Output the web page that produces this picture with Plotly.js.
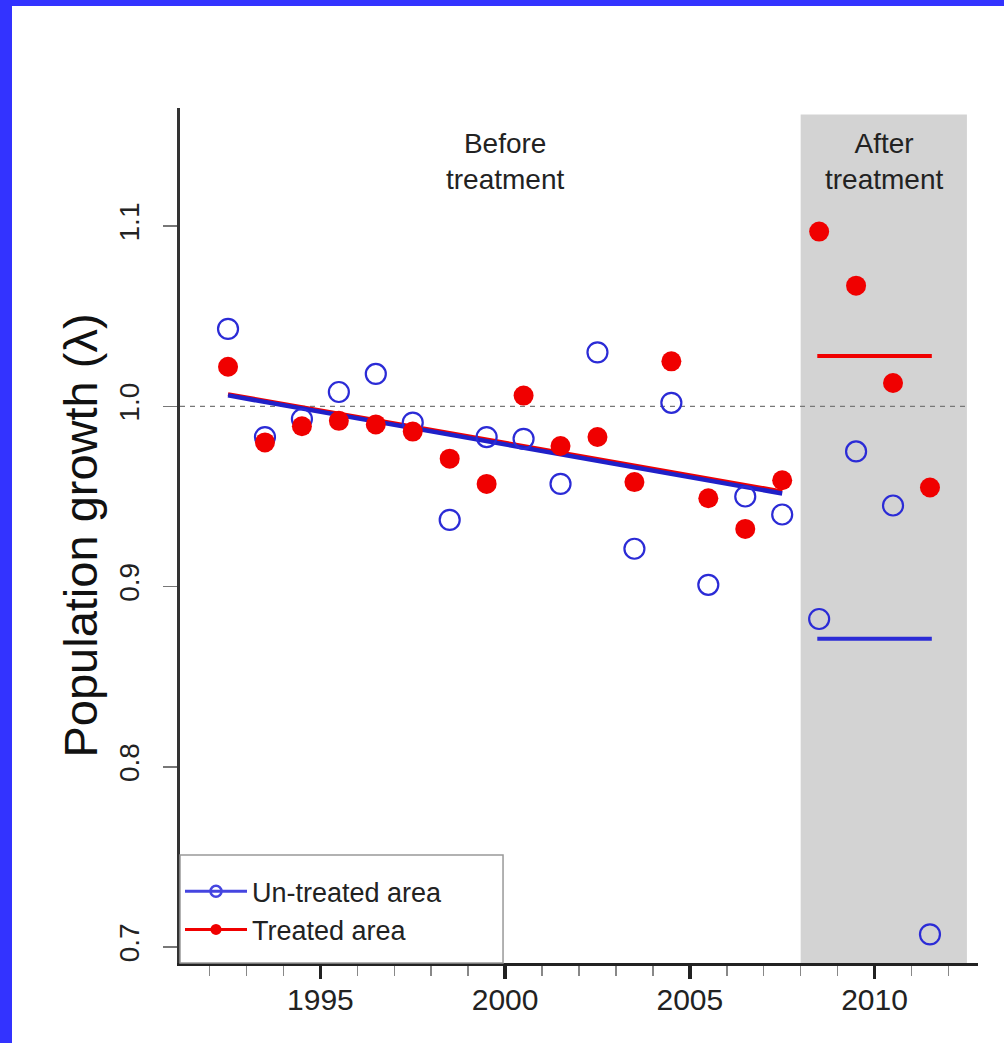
<!DOCTYPE html>
<html>
<head>
<meta charset="utf-8">
<script src="https://cdn.plot.ly/plotly-3.0.1.min.js"></script>
<style>
  html, body { margin: 0; padding: 0; background: #3333ff; width: 1004px; height: 1043px; overflow: hidden; }
  #chart { position: absolute; left: 12px; top: 6px; width: 992px; height: 1037px; background: #ffffff; }
</style>
</head>
<body>
<div id="chart"></div>
<script>
// ---- Data ----
const yearsBefore = [1992.5, 1993.5, 1994.5, 1995.5, 1996.5, 1997.5, 1998.5, 1999.5,
                     2000.5, 2001.5, 2002.5, 2003.5, 2004.5, 2005.5, 2006.5, 2007.5];
const yearsAfter  = [2008.5, 2009.5, 2010.5, 2011.5];

const untreatedBefore = [1.043, 0.983, 0.993, 1.008, 1.018, 0.991, 0.937, 0.983,
                         0.982, 0.957, 1.030, 0.921, 1.002, 0.901, 0.950, 0.940];
const untreatedAfter  = [0.882, 0.975, 0.945, 0.707];

const treatedBefore = [1.022, 0.980, 0.989, 0.992, 0.990, 0.986, 0.971, 0.957,
                       1.006, 0.978, 0.983, 0.958, 1.025, 0.949, 0.932, 0.959];
const treatedAfter  = [1.097, 1.067, 1.013, 0.955];

// Fitted trend lines (before treatment)
const trendX         = [1992.5, 2007.5];
const trendUntreated = [1.0061, 0.9517];
const trendTreated   = [1.0068, 0.9528];

// Mean level after treatment
const meanX         = [2008.45, 2011.55];
const meanUntreated = [0.871, 0.871];
const meanTreated   = [1.028, 1.028];

// Periods
const afterStart = 2008, afterEnd = 2012.5, panelTop = 1.162;
const xTickVals  = [1995, 2000, 2005, 2010];
const yTickVals  = [0.7, 0.8, 0.9, 1.0, 1.1];
const xRange = [1991.2, 2012.8];
const yRange = [0.6911, 1.1656];

const legendNames = ['Un-treated area', 'Treated area'];
const periodLabels = ['Before<br>treatment', 'After<br>treatment'];

const BLUE = '#2b2bd6';
const RED  = '#f00000';
const FONT = 'Liberation Sans, Arial, sans-serif';

const allX = yearsBefore.concat(yearsAfter);

const traces = [
  { x: trendX, y: trendTreated, mode: 'lines', line: {color: RED, width: 4}, showlegend: false, hoverinfo: 'skip' },
  { x: trendX, y: trendUntreated, mode: 'lines', line: {color: '#2020c8', width: 4.5}, showlegend: false, hoverinfo: 'skip' },
  { x: meanX, y: meanTreated, mode: 'lines', line: {color: RED, width: 4}, showlegend: false },
  { x: meanX, y: meanUntreated, mode: 'lines', line: {color: BLUE, width: 4}, showlegend: false },
  { x: allX, y: untreatedBefore.concat(untreatedAfter), mode: 'markers', showlegend: false,
    marker: {symbol: 'circle-open', size: 20, color: BLUE, line: {width: 2.2, color: BLUE}} },
  { x: allX, y: treatedBefore.concat(treatedAfter), mode: 'markers', showlegend: false,
    marker: {symbol: 'circle', size: 20, color: RED} },
  // legend entries
  { x: [null], y: [null], name: legendNames[0], mode: 'lines+markers',
    line: {color: '#4545e0', width: 3}, marker: {symbol: 'circle-open', size: 11, color: '#4545e0', line: {width: 2.5}} },
  { x: [null], y: [null], name: legendNames[1], mode: 'lines+markers',
    line: {color: RED, width: 3}, marker: {symbol: 'circle', size: 11, color: RED} }
];

const layout = {
  width: 992, height: 1037,
  margin: {l: 168, r: 26, t: 102, b: 80},
  paper_bgcolor: '#ffffff', plot_bgcolor: '#ffffff',
  font: {family: FONT, color: '#222'},
  showlegend: true,
  legend: {
    x: 0.0, xanchor: 'left', y: 0.112, yanchor: 'top',
    bgcolor: 'rgba(0,0,0,0)', borderwidth: 0,
    font: {family: FONT, size: 27, color: '#222'},
    itemwidth: 62, tracegroupgap: 0
  },
  xaxis: {
    range: xRange, showgrid: false, zeroline: false,
    showline: true, linecolor: '#222', linewidth: 3,
    tickmode: 'array', tickvals: xTickVals,
    ticks: 'outside', ticklen: 13, tickwidth: 3.5, tickcolor: '#222',
    tickfont: {family: FONT, size: 30, color: '#222'},
    ticklabelstandoff: -5,
    minor: {dtick: 1, tick0: 1991, ticks: 'outside', ticklen: 10, tickwidth: 1.5, tickcolor: '#888', showgrid: false}
  },
  yaxis: {
    range: yRange, showgrid: false, zeroline: false,
    showline: true, linecolor: '#333', linewidth: 3,
    tickmode: 'array', tickvals: yTickVals, tickformat: '.1f',
    ticks: 'outside', ticklen: 14, tickwidth: 1.5, tickcolor: '#777',
    tickangle: -90,
    tickfont: {family: FONT, size: 28, color: '#222'},
    ticklabelstandoff: 13,
    title: {text: 'Population growth (λ)', font: {family: FONT, size: 47, color: '#111'}, standoff: 2}
  },
  shapes: [
    { type: 'rect', xref: 'x', yref: 'y', x0: afterStart, x1: afterEnd, y0: yRange[0], y1: panelTop,
      fillcolor: '#d3d3d3', line: {width: 0}, layer: 'below' },
    { type: 'line', xref: 'x', yref: 'y', x0: xRange[0], x1: afterEnd, y0: 1.0, y1: 1.0,
      line: {color: '#777', width: 1.2, dash: '5px,5px'}, layer: 'below' },
    { type: 'rect', xref: 'paper', yref: 'paper', x0: 0, x1: 0.4048, y0: 0, y1: 0.1263,
      fillcolor: '#ffffff', line: {color: '#999', width: 1.5}, layer: 'above' }
  ],
  annotations: [
    { x: 2000, y: 1.1358, xref: 'x', yref: 'y', text: periodLabels[0], showarrow: false,
      font: {family: FONT, size: 28, color: '#222'}, xanchor: 'center', yanchor: 'middle' },
    { x: 2010.25, y: 1.1358, xref: 'x', yref: 'y', text: periodLabels[1], showarrow: false,
      font: {family: FONT, size: 28, color: '#222'}, xanchor: 'center', yanchor: 'middle' }
  ]
};

Plotly.newPlot('chart', traces, layout, {staticPlot: true, displayModeBar: false});
</script>
</body>
</html>
